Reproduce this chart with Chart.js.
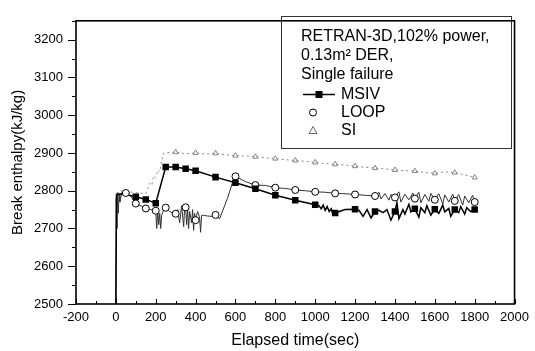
<!DOCTYPE html>
<html>
<head>
<meta charset="utf-8">
<script src="https://cdn.jsdelivr.net/npm/chart.js@4.4.1/dist/chart.umd.min.js"></script>
<style>
  html, body { margin: 0; padding: 0; background: #fff; }
</style>
</head>
<body>
<canvas id="enthalpyChart" width="535" height="351"></canvas>
<script>
// Assen
const xTicks = [-200, 0, 200, 400, 600, 800, 1000, 1200, 1400, 1600, 1800, 2000];
const yTicks = [2500, 2600, 2700, 2800, 2900, 3000, 3100, 3200];

// Legenda tekst
const legendTitle = ['RETRAN-3D,102% power,', '0.13m\u00B2 DER,', 'Single failure'];

// MSIV - lijn en markers
const msivLineT = [0, 3, 30, 100, 150, 200, 250, 300, 350, 400, 500, 600, 700, 800, 900, 1000,
  1020, 1030, 1040, 1050, 1060, 1070, 1080, 1090, 1100, 1150, 1200, 1220, 1240, 1260, 1280, 1300,
  1320, 1340, 1360, 1380, 1400, 1410, 1420, 1440, 1450, 1470, 1480, 1500, 1520, 1530, 1550, 1560, 1580, 1600,
  1620, 1640, 1650, 1670, 1680, 1700, 1720, 1730, 1750, 1760, 1780, 1800];
const msivLineV = [2500, 2790, 2792, 2784, 2777, 2767, 2863, 2863, 2858, 2853, 2836, 2821, 2805, 2788, 2775, 2763,
  2760, 2752, 2762, 2748, 2758, 2745, 2752, 2736, 2741, 2750, 2751, 2748, 2732, 2750, 2728, 2745,
  2748, 2742, 2750, 2722, 2745, 2768, 2726, 2750, 2738, 2764, 2744, 2752, 2730, 2755, 2742, 2760, 2735, 2751,
  2740, 2762, 2744, 2753, 2732, 2750, 2742, 2758, 2738, 2755, 2745, 2750];
const msivMarkT = [100, 150, 200, 250, 300, 350, 400, 500, 600, 700, 800, 900, 1000, 1100, 1200, 1300, 1400, 1500, 1600, 1700, 1800];
const msivMarkV = [2784, 2777, 2767, 2863, 2863, 2858, 2853, 2836, 2821, 2805, 2788, 2775, 2763, 2741, 2751, 2745, 2745, 2752, 2751, 2750, 2750];

// LOOP - lijn en markers
const loopLineT = [0, 2, 5, 8, 12, 16, 20, 30, 50, 75, 100, 125, 150, 175, 200, 205, 210, 215, 220, 225,
  230, 240, 250, 270, 290, 300, 310, 320, 330, 340, 345, 350, 355, 360, 365, 370, 380, 385, 390, 395,
  400, 410, 420, 425, 430, 440, 460, 480, 500, 520, 560, 595, 600, 650, 700, 750, 800, 850, 900, 950,
  1000, 1050, 1100, 1150, 1200, 1250, 1300, 1320, 1330, 1350, 1370, 1380, 1400, 1420, 1430, 1450, 1470, 1490, 1500,
  1520, 1530, 1550, 1570, 1580, 1600, 1620, 1640, 1650, 1670, 1690, 1700, 1720, 1740, 1750, 1770, 1790, 1800];
const loopLineV = [2500, 2780, 2700, 2795, 2740, 2790, 2770, 2795, 2794, 2785, 2766, 2760, 2753, 2750, 2747, 2700, 2745, 2710, 2740, 2700,
  2735, 2750, 2755, 2745, 2740, 2739, 2750, 2715, 2760, 2705, 2755, 2756, 2710, 2750, 2700, 2745, 2715, 2750, 2695, 2740,
  2722, 2745, 2730, 2690, 2735, 2735, 2733, 2732, 2736, 2725, 2780, 2838, 2838, 2824, 2815, 2814, 2808, 2806, 2802, 2800,
  2797, 2796, 2793, 2792, 2790, 2788, 2786, 2796, 2778, 2792, 2775, 2790, 2782, 2797, 2770, 2791, 2776, 2794, 2779,
  2796, 2768, 2790, 2772, 2793, 2776, 2792, 2765, 2789, 2770, 2791, 2773, 2790, 2762, 2786, 2768, 2788, 2770];
const loopMarkT = [50, 100, 150, 200, 250, 300, 350, 400, 500, 600, 700, 800, 900, 1000, 1100, 1200, 1300, 1400, 1500, 1600, 1700, 1800];
const loopMarkV = [2794, 2766, 2753, 2747, 2755, 2739, 2756, 2722, 2736, 2838, 2815, 2808, 2802, 2797, 2793, 2790, 2786, 2782, 2779, 2776, 2773, 2770];

// SI - lijn en markers
const siLineT = [0, 5, 20, 50, 100, 150, 160, 170, 180, 190, 200, 210, 220, 230, 240, 300, 350, 400, 450, 500,
  550, 600, 650, 700, 750, 800, 850, 900, 950, 1000, 1050, 1100, 1150, 1200, 1250, 1300, 1350, 1400, 1450,
  1500, 1550, 1600, 1650, 1700, 1750, 1800];
const siLineV = [2500, 2785, 2800, 2798, 2795, 2792, 2805, 2820, 2815, 2840, 2835, 2855, 2850, 2880, 2900, 2902, 2898, 2900, 2897, 2899,
  2895, 2893, 2892, 2890, 2887, 2885, 2882, 2880, 2878, 2875, 2872, 2870, 2868, 2865, 2862, 2860, 2858, 2855, 2853,
  2852, 2848, 2846, 2850, 2848, 2842, 2835];
const siMarkT = [300, 400, 500, 600, 700, 800, 900, 1000, 1100, 1200, 1300, 1400, 1500, 1600, 1700, 1800];
const siMarkV = [2902, 2900, 2899, 2893, 2890, 2885, 2880, 2875, 2870, 2865, 2860, 2855, 2852, 2846, 2848, 2835];

const punten = (t, v) => t.map((x, i) => ({ x: x, y: v[i] }));
const fontFam = '"Liberation Sans", Arial, sans-serif';

// Kader rond de grafiek plus tick-streepjes (x naar binnen, y naar buiten)
const kaderPlugin = {
    id: 'kader',
    afterDraw(chart) {
        const { ctx, chartArea: a, scales: { x, y } } = chart;
        ctx.save();
        ctx.strokeStyle = '#000';
        ctx.lineWidth = 1;
        ctx.beginPath();
        xTicks.forEach((v, i) => {
            const px = Math.round(x.getPixelForValue(v)) + 0.5;
            ctx.moveTo(px, a.bottom); ctx.lineTo(px, a.bottom - 5);
            if (i < xTicks.length - 1) {
                const mx = Math.round(x.getPixelForValue((v + xTicks[i + 1]) / 2)) + 0.5;
                ctx.moveTo(mx, a.bottom); ctx.lineTo(mx, a.bottom - 3);
            }
        });
        yTicks.forEach((v, i) => {
            const py = Math.round(y.getPixelForValue(v)) + 0.5;
            ctx.moveTo(a.left, py); ctx.lineTo(a.left - 8, py);
            const my = Math.round(y.getPixelForValue(v + 50)) + 0.5;
            ctx.moveTo(a.left, my); ctx.lineTo(a.left - 4, my);
        });
        ctx.stroke();
        ctx.lineWidth = 1.6;
        ctx.strokeRect(a.left, a.top, a.right - a.left, a.bottom - a.top);
        ctx.restore();
    }
};

// Legenda-kader met titelregels en symbolen
const legendePlugin = {
    id: 'legende',
    afterDatasetsDraw(chart) {
        const ctx = chart.ctx;
        ctx.save();
        ctx.fillStyle = '#fff';
        ctx.fillRect(281, 16, 230, 132);
        ctx.strokeStyle = '#333';
        ctx.lineWidth = 1;
        ctx.strokeRect(281.5, 16.5, 230, 132);
        ctx.fillStyle = '#000';
        ctx.font = '16px ' + fontFam;
        ctx.textBaseline = 'middle';
        legendTitle.forEach((t, i) => ctx.fillText(t, 301, 37 + i * 19));

        const items = chart.data.datasets.filter(d => d.legendSym);
        items.forEach((d, i) => {
            const ly = 94.5 + i * 18;
            ctx.strokeStyle = '#000';
            ctx.fillStyle = '#000';
            ctx.lineWidth = 1;
            if (d.legendSym === 'rect') {
                ctx.lineWidth = 1.5;
                ctx.beginPath(); ctx.moveTo(303, ly); ctx.lineTo(335, ly); ctx.stroke();
                ctx.fillRect(315.5, ly - 3.5, 7, 7);
            } else if (d.legendSym === 'circle') {
                ctx.beginPath(); ctx.arc(313, ly, 3.5, 0, Math.PI * 2); ctx.stroke();
            } else {
                ctx.strokeStyle = '#666';
                ctx.beginPath();
                ctx.moveTo(313, ly - 4); ctx.lineTo(317, ly + 3); ctx.lineTo(309, ly + 3); ctx.closePath();
                ctx.stroke();
            }
            ctx.fillStyle = '#000';
            ctx.fillText(d.label, 341, ly);
        });
        ctx.restore();
    }
};

new Chart(document.getElementById('enthalpyChart'), {
    type: 'scatter',
    data: {
        datasets: [
            { label: 'MSIV', legendSym: 'rect', data: punten(msivMarkT, msivMarkV), showLine: false,
              pointStyle: 'rect', pointRadius: 4.6, backgroundColor: '#000', borderColor: '#000', borderWidth: 0, order: 1 },
            { label: 'LOOP', legendSym: 'circle', data: punten(loopMarkT, loopMarkV), showLine: false,
              pointStyle: 'circle', pointRadius: 3.5, backgroundColor: '#fff', borderColor: '#000', borderWidth: 1, order: 2 },
            { label: 'SI', legendSym: 'triangle', data: punten(siMarkT, siMarkV), showLine: false,
              pointStyle: 'triangle', pointRadius: 3, backgroundColor: 'rgba(0,0,0,0)', borderColor: '#888', borderWidth: 1, order: 3 },
            { label: 'MSIV lijn', data: punten(msivLineT, msivLineV), showLine: true, pointRadius: 0,
              borderColor: '#000', borderWidth: 1.5, order: 4 },
            { label: 'LOOP lijn', data: punten(loopLineT, loopLineV), showLine: true, pointRadius: 0,
              borderColor: '#333', borderWidth: 1, order: 5 },
            { label: 'SI lijn', data: punten(siLineT, siLineV), showLine: true, pointRadius: 0,
              borderColor: '#888', borderWidth: 1, borderDash: [2, 3], order: 6 }
        ]
    },
    options: {
        responsive: false,
        animation: false,
        layout: { padding: { top: 7, right: 13, left: 0, bottom: 0 } },
        plugins: { legend: { display: false }, tooltip: { enabled: false } },
        scales: {
            x: {
                type: 'linear', min: -200, max: 2000,
                afterBuildTicks: s => { s.ticks = xTicks.map(v => ({ value: v })); },
                afterFit: s => { s.height = 47; },
                grid: { drawOnChartArea: false, drawTicks: false },
                border: { display: false },
                ticks: { color: '#000', padding: 6, maxRotation: 0, callback: v => String(v),
                         font: { family: fontFam, size: 13 } },
                title: { display: true, text: 'Elapsed time(sec)', color: '#000', padding: { top: 0, bottom: 1 },
                         font: { family: fontFam, size: 16 } }
            },
            y: {
                type: 'linear', min: 2500, max: 3250,
                afterBuildTicks: s => { s.ticks = yTicks.map(v => ({ value: v })); },
                afterFit: s => { s.width = 76; },
                grid: { drawOnChartArea: false, drawTicks: false },
                border: { display: false },
                ticks: { color: '#000', padding: 13, callback: v => String(v),
                         font: { family: fontFam, size: 13 } },
                title: { display: true, text: 'Break enthalpy(kJ/kg)', color: '#000', padding: { top: 9, bottom: 0 },
                         font: { family: fontFam, size: 15 } }
            }
        }
    },
    plugins: [legendePlugin, kaderPlugin]
});
</script>
</body>
</html>
